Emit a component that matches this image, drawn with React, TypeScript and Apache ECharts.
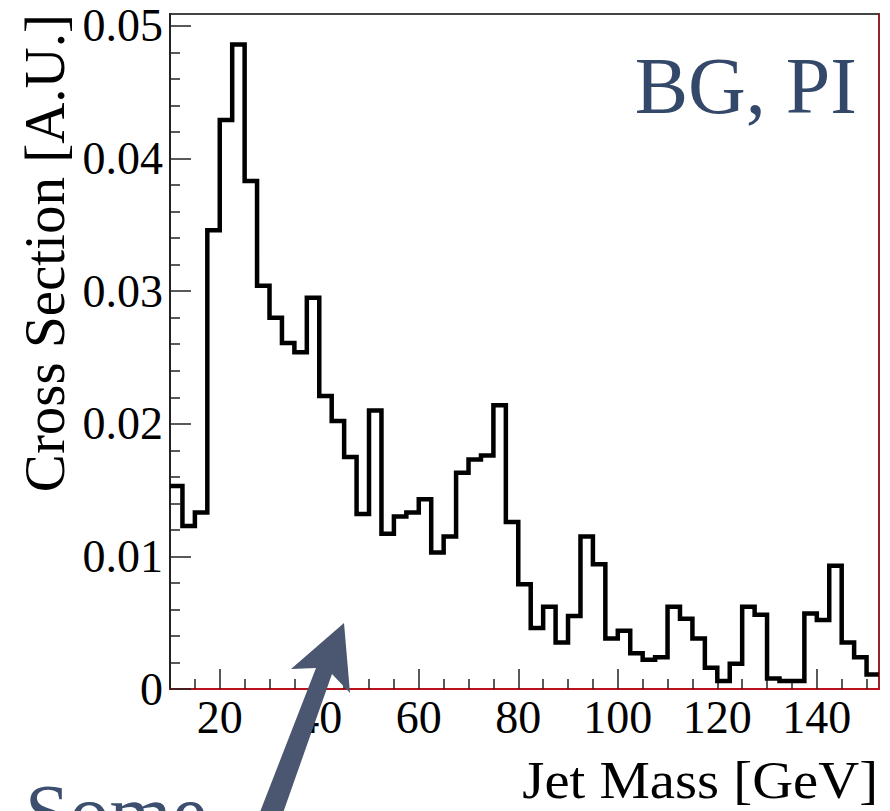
import React, { useEffect, useRef } from "react";
import * as echarts from "echarts";

// Histogram: Jet Mass [GeV], bins of 2.5 GeV starting at 10 GeV
const BIN_START = 10;
const BIN_WIDTH = 2.5;
const crossSection = [
  0.0153, 0.0123, 0.0133, 0.0346, 0.0429, 0.0486, 0.0383, 0.0304, 0.028, 0.0261,
  0.0254, 0.0295, 0.0221, 0.0202, 0.0175, 0.0132, 0.021, 0.0117, 0.013, 0.0133,
  0.0143, 0.0103, 0.0115, 0.0163, 0.0173, 0.0176, 0.0214, 0.0126, 0.0079, 0.0046,
  0.0062, 0.0035, 0.0055, 0.0115, 0.0094, 0.0038, 0.0044, 0.0027, 0.0022, 0.0024,
  0.0062, 0.0053, 0.0038, 0.0016, 0.0006, 0.0019, 0.0062, 0.0056, 0.0008, 0.0006,
  0.0006, 0.0057, 0.0052, 0.0093, 0.0035, 0.0024, 0.0011,
];

const xMajorTicks = [20, 40, 60, 80, 100, 120, 140];
const xMinorTicks = [15, 25, 30, 35, 45, 50, 55, 65, 70, 75, 85, 90, 95, 105, 110, 115, 125, 130, 135, 145, 150];
const yMajorTicks = [0, 0.01, 0.02, 0.03, 0.04, 0.05];
const yMinorTicks = [
  0.002, 0.004, 0.006, 0.008, 0.012, 0.014, 0.016, 0.018, 0.022, 0.024, 0.026, 0.028,
  0.032, 0.034, 0.036, 0.038, 0.042, 0.044, 0.046, 0.048,
];

const X_MIN = 10;
const X_MAX = 152.5;
const Y_MIN = 0;
const Y_MAX = 0.0509;

const xTitle = "Jet Mass [GeV]";
const yTitle = "Cross Section [A.U.]";
const tagText = "BG, PI";
const noteText = "Some";

const SERIF = "'Liberation Serif', 'Times New Roman', serif";

export default function App() {
  const ref = useRef<HTMLDivElement>(null);

  useEffect(() => {
    if (!ref.current) return;
    const chart = echarts.init(ref.current, null, { renderer: "svg" });

    const stepData: [number, number][] = crossSection.map((v, i) => [BIN_START + i * BIN_WIDTH, v]);
    stepData.push([BIN_START + crossSection.length * BIN_WIDTH, crossSection[crossSection.length - 1]]);

    const hidden = { show: false };

    chart.setOption({
      animation: false,
      backgroundColor: "#ffffff",
      grid: {
        left: 170,
        right: 11,
        top: 14,
        bottom: 122,
        show: true,
        borderColor: "#444",
        borderWidth: 2,
        backgroundColor: "transparent",
      },
      xAxis: [
        {
          type: "value",
          min: X_MIN,
          max: X_MAX,
          position: "bottom",
          axisLine: { show: true, lineStyle: { color: "#e3000f", width: 1.5 } },
          axisTick: {
            show: true,
            inside: true,
            length: 20,
            customValues: xMajorTicks,
            lineStyle: { color: "#222", width: 1.5 },
          },
          axisLabel: {
            show: true,
            customValues: xMajorTicks,
            margin: 5,
            fontFamily: SERIF,
            fontSize: 46,
            color: "#000",
          },
          splitLine: hidden,
        },
        {
          type: "value",
          min: X_MIN,
          max: X_MAX,
          position: "bottom",
          axisLine: hidden,
          axisTick: {
            show: true,
            inside: true,
            length: 10,
            customValues: xMinorTicks,
            lineStyle: { color: "#222", width: 1.5 },
          },
          axisLabel: hidden,
          splitLine: hidden,
        },
      ],
      yAxis: [
        {
          type: "value",
          min: Y_MIN,
          max: Y_MAX,
          position: "left",
          axisLine: { show: true, lineStyle: { color: "#222", width: 2 } },
          axisTick: {
            show: true,
            inside: true,
            length: 21,
            customValues: yMajorTicks,
            lineStyle: { color: "#222", width: 1.5 },
          },
          axisLabel: {
            show: true,
            customValues: yMajorTicks,
            margin: 7,
            fontFamily: SERIF,
            fontSize: 46,
            color: "#000",
            formatter: (v: number) => (v === 0 ? "0" : v.toFixed(2)),
          },
          splitLine: hidden,
        },
        {
          type: "value",
          min: Y_MIN,
          max: Y_MAX,
          position: "left",
          axisLine: hidden,
          axisTick: {
            show: true,
            inside: true,
            length: 10,
            customValues: yMinorTicks,
            lineStyle: { color: "#222", width: 1.5 },
          },
          axisLabel: hidden,
          splitLine: hidden,
        },
        {
          type: "value",
          min: Y_MIN,
          max: Y_MAX,
          position: "right",
          axisLine: { show: true, lineStyle: { color: "#e3000f", width: 1 } },
          axisTick: hidden,
          axisLabel: hidden,
          splitLine: hidden,
        },
      ],
      series: [
        {
          type: "line",
          xAxisIndex: 0,
          yAxisIndex: 0,
          step: "end",
          symbol: "none",
          data: stepData,
          lineStyle: { color: "#000", width: 4.5, join: "miter" },
          clip: true,
          z: 5,
        },
      ],
      graphic: [
        {
          type: "text",
          x: 44,
          y: 14,
          rotation: Math.PI / 2,
          style: {
            text: yTitle,
            fontFamily: SERIF,
            fontSize: 57,
            fill: "#000",
            align: "right",
            verticalAlign: "middle",
          },
        },
        {
          type: "text",
          x: 878,
          y: 781,
          scaleX: 1.09,
          style: {
            text: xTitle,
            fontFamily: SERIF,
            fontSize: 52,
            fill: "#000",
            align: "right",
            verticalAlign: "middle",
          },
        },
        {
          type: "text",
          x: 857,
          y: 86,
          style: {
            text: tagText,
            fontFamily: SERIF,
            fontSize: 80,
            fill: "#34496a",
            align: "right",
            verticalAlign: "middle",
          },
        },
        {
          type: "text",
          x: 25,
          y: 813,
          style: {
            text: noteText,
            fontFamily: SERIF,
            fontSize: 80,
            fill: "#3d4f6e",
            align: "left",
            verticalAlign: "middle",
          },
        },
        {
          type: "polygon",
          z: 100,
          shape: {
            points: [
              [344, 623],
              [350, 693],
              [332, 674],
              [277, 830],
              [253, 830],
              [316, 668],
              [291, 669],
            ],
          },
          style: { fill: "#4b5770" },
        },
      ],
    });

    return () => chart.dispose();
  }, []);

  return (
    <div
      ref={ref}
      style={{ position: "fixed", left: 0, top: 0, width: 890, height: 811, background: "#fff" }}
    />
  );
}
